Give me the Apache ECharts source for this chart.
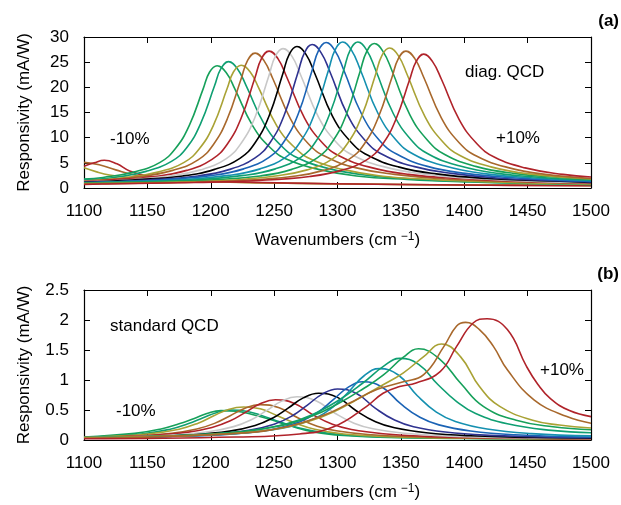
<!DOCTYPE html>
<html><head><meta charset="utf-8">
<script src="https://cdn.jsdelivr.net/npm/echarts/dist/echarts.min.js"></script>
<style>html,body{margin:0;padding:0;background:#fff}#c{width:621px;height:505px}</style>
</head><body><div id="c"></div>
<script>
// ---------- Panel (a): diag. QCD, responsivity (mA/W) vs wavenumber ----------
const aOliveLow = [[1100,4.0],[1110,3.2],[1120,2.6],[1135,2.1],[1160,1.6],[1200,1.25],[1260,0.95],[1350,0.7],[1500,0.5]];
const aBrownLow = [[1100,5.1],[1112,4.6],[1125,3.6],[1140,2.6],[1160,1.9],[1190,1.4],[1240,1.05],[1300,0.85],[1400,0.6],[1500,0.5]];
const aRedLow = [[1100,4.3],[1108,5.0],[1116,5.5],[1126,4.8],[1136,3.4],[1150,2.4],[1175,1.7],[1210,1.3],[1260,1.0],[1330,0.75],[1420,0.55],[1500,0.45]];
const aGreen1 = [[1100,1.8],[1115,2.1],[1140,3.2],[1160,5.1],[1172,7.8],[1183,12.4],[1194,19.7],[1199,23.0],[1205,24.3],[1212,23.0],[1219,19.7],[1233,12.4],[1247,8.0],[1261,5.6],[1285,3.7],[1315,2.4],[1355,1.7],[1405,1.2],[1455,0.9],[1500,0.7]];
const aGreen2 = [[1100,1.7],[1124,2.1],[1149,3.3],[1169,5.3],[1181,8.0],[1192,12.8],[1203,20.3],[1208,23.7],[1214,25.1],[1221,23.7],[1228,20.3],[1242,12.8],[1256,8.3],[1270,5.8],[1294,3.8],[1324,2.5],[1364,1.7],[1414,1.2],[1464,0.9],[1500,0.7]];
const aOlive1 = [[1100,1.4],[1134,2.1],[1159,3.2],[1179,5.1],[1191,7.8],[1202,12.4],[1213,19.8],[1218,23.1],[1224,24.4],[1231,23.1],[1238,19.8],[1252,12.4],[1266,8.1],[1280,5.6],[1304,3.7],[1334,2.4],[1374,1.7],[1424,1.2],[1474,0.9],[1500,0.8]];
const aBrown1 = [[1100,1.4],[1145,2.3],[1170,3.5],[1190,5.6],[1202,8.6],[1213,13.7],[1224,21.7],[1229,25.3],[1235,26.8],[1242,25.3],[1249,21.7],[1263,13.7],[1277,8.8],[1291,6.2],[1315,4.0],[1345,2.7],[1385,1.8],[1435,1.3],[1500,0.9]];
const aRed1 = [[1100,1.3],[1116,1.5],[1156,2.3],[1181,3.5],[1201,5.7],[1213,8.7],[1224,13.9],[1235,22.0],[1240,25.7],[1246,27.2],[1253,25.7],[1260,22.0],[1274,13.9],[1288,9.0],[1302,6.3],[1326,4.1],[1356,2.7],[1396,1.9],[1446,1.3],[1500,1.0]];
const aGray = [[1100,1.3],[1127,1.5],[1167,2.4],[1192,3.6],[1212,5.8],[1224,8.9],[1235,14.1],[1246,22.4],[1251,26.2],[1257,27.7],[1264,26.2],[1271,22.4],[1285,14.1],[1299,9.1],[1313,6.4],[1337,4.2],[1367,2.8],[1407,1.9],[1457,1.3],[1500,1.1]];
const aBlack = [[1100,1.2],[1138,1.6],[1178,2.4],[1203,3.7],[1223,5.9],[1235,9.0],[1246,14.3],[1257,22.8],[1262,26.6],[1268,28.1],[1275,26.6],[1282,22.8],[1296,14.3],[1310,9.3],[1324,6.5],[1348,4.2],[1378,2.8],[1418,1.9],[1468,1.4],[1500,1.1]];
const aNavy = [[1100,1.1],[1150,1.6],[1190,2.4],[1215,3.7],[1235,6.0],[1247,9.1],[1258,14.5],[1269,23.1],[1274,26.9],[1280,28.5],[1287,26.9],[1294,23.1],[1308,14.5],[1322,9.4],[1336,6.6],[1360,4.3],[1390,2.9],[1430,1.9],[1480,1.4],[1500,1.2]];
const aBlue = [[1100,1.1],[1161,1.6],[1201,2.5],[1226,3.8],[1246,6.1],[1258,9.3],[1269,14.7],[1280,23.4],[1285,27.3],[1291,28.9],[1298,27.3],[1305,23.4],[1319,14.7],[1333,9.5],[1347,6.7],[1371,4.3],[1401,2.9],[1441,2.0],[1500,1.3]];
const aTeal = [[1100,1.0],[1124,1.2],[1174,1.6],[1214,2.5],[1239,3.8],[1259,6.1],[1271,9.3],[1282,14.8],[1293,23.5],[1298,27.4],[1304,29.0],[1311,27.4],[1318,23.5],[1332,14.8],[1346,9.6],[1360,6.7],[1384,4.4],[1414,2.9],[1454,2.0],[1500,1.5]];
const aGreen3 = [[1100,1.0],[1136,1.2],[1186,1.6],[1226,2.5],[1251,3.8],[1271,6.1],[1283,9.3],[1294,14.8],[1305,23.5],[1310,27.4],[1316,29.0],[1323,27.4],[1330,23.5],[1344,14.8],[1358,9.6],[1372,6.7],[1396,4.4],[1426,2.9],[1466,2.0],[1500,1.6]];
const aGreen4 = [[1100,1.0],[1149,1.2],[1199,1.6],[1239,2.4],[1264,3.7],[1284,6.0],[1296,9.2],[1307,14.6],[1318,23.3],[1323,27.1],[1329,28.7],[1336,27.1],[1343,23.3],[1357,14.6],[1371,9.5],[1385,6.6],[1409,4.3],[1439,2.9],[1479,2.0],[1500,1.7]];
const aOlive2 = [[1100,0.9],[1161,1.1],[1211,1.5],[1251,2.4],[1276,3.6],[1296,5.8],[1308,8.9],[1319,14.2],[1330,22.5],[1335,26.3],[1341,27.8],[1348,26.3],[1355,22.5],[1369,14.2],[1383,9.2],[1397,6.4],[1421,4.2],[1451,2.8],[1500,1.8]];
const aBrown2 = [[1100,0.8],[1174,1.1],[1224,1.5],[1264,2.3],[1289,3.5],[1309,5.7],[1321,8.7],[1332,13.9],[1343,22.0],[1348,25.7],[1354,27.2],[1361,25.7],[1368,22.0],[1382,13.9],[1396,9.0],[1410,6.3],[1434,4.1],[1464,2.7],[1500,1.9]];
const aRed2 = [[1100,0.7],[1118,0.8],[1188,1.1],[1238,1.5],[1278,2.3],[1303,3.5],[1323,5.6],[1335,8.5],[1346,13.6],[1357,21.6],[1362,25.1],[1368,26.6],[1375,25.1],[1382,21.6],[1396,13.6],[1410,8.8],[1424,6.1],[1448,4.0],[1478,2.7],[1500,2.2]];

// ---------- Panel (b): standard QCD ----------
const bGreen1 = [[1100,0.05],[1140,0.11],[1160,0.18],[1175,0.27],[1187,0.36],[1197,0.44],[1208,0.49],[1220,0.48],[1232,0.43],[1247,0.34],[1262,0.24],[1280,0.14],[1305,0.075],[1340,0.043],[1400,0.025],[1500,0.015]];
const bGreen2 = [[1100,0.045],[1145,0.1],[1168,0.18],[1182,0.27],[1194,0.37],[1205,0.46],[1216,0.5],[1228,0.48],[1240,0.41],[1255,0.3],[1270,0.2],[1290,0.12],[1320,0.065],[1360,0.04],[1430,0.022],[1500,0.015]];
const bOlive1 = [[1100,0.043],[1150,0.1],[1175,0.18],[1190,0.28],[1202,0.4],[1214,0.51],[1226,0.55],[1239,0.52],[1252,0.41],[1267,0.28],[1282,0.18],[1305,0.1],[1340,0.055],[1400,0.03],[1500,0.016]];
const bBrown1 = [[1100,0.039],[1139,0.065],[1169,0.112],[1189,0.183],[1203,0.277],[1215,0.401],[1227,0.531],[1239,0.59],[1254,0.537],[1269,0.366],[1284,0.23],[1299,0.153],[1324,0.091],[1359,0.053],[1409,0.032],[1469,0.021],[1500,0.018]];
const bRed1 = [[1100,0.04],[1151,0.074],[1181,0.127],[1201,0.208],[1215,0.315],[1227,0.456],[1239,0.603],[1251,0.67],[1266,0.61],[1281,0.415],[1296,0.261],[1311,0.174],[1336,0.104],[1371,0.06],[1421,0.037],[1481,0.023],[1500,0.021]];
const bGray = [[1100,0.038],[1118,0.043],[1168,0.079],[1198,0.137],[1218,0.223],[1232,0.338],[1244,0.49],[1256,0.648],[1268,0.72],[1283,0.655],[1298,0.446],[1313,0.281],[1328,0.187],[1353,0.112],[1388,0.065],[1438,0.04],[1500,0.025]];
const bBlack = [[1100,0.037],[1135,0.047],[1185,0.086],[1215,0.148],[1235,0.242],[1249,0.367],[1261,0.53],[1273,0.702],[1285,0.78],[1300,0.71],[1315,0.484],[1330,0.304],[1345,0.203],[1370,0.121],[1405,0.07],[1455,0.043],[1500,0.03]];
const bNavy = [[1100,0.037],[1150,0.051],[1200,0.094],[1230,0.162],[1250,0.264],[1264,0.4],[1276,0.578],[1288,0.765],[1300,0.85],[1315,0.774],[1330,0.527],[1345,0.332],[1360,0.221],[1385,0.132],[1420,0.077],[1470,0.047],[1500,0.038]];
const bBlue = [[1100,0.037],[1170,0.058],[1220,0.107],[1250,0.184],[1270,0.301],[1284,0.456],[1296,0.66],[1308,0.873],[1320,0.97],[1335,0.883],[1350,0.601],[1365,0.378],[1380,0.252],[1405,0.15],[1440,0.087],[1500,0.049]];
const bTeal = [[1100,0.042],[1183,0.071],[1233,0.131],[1263,0.226],[1283,0.369],[1297,0.559],[1309,0.809],[1321,1.071],[1333,1.19],[1348,1.083],[1363,0.738],[1378,0.464],[1393,0.309],[1418,0.184],[1453,0.107],[1500,0.068]];
const bGreen3 = [[1100,0.04],[1180,0.08],[1230,0.15],[1260,0.27],[1280,0.42],[1300,0.65],[1320,0.95],[1337,1.24],[1349,1.36],[1364,1.26],[1379,0.93],[1394,0.64],[1409,0.44],[1434,0.27],[1469,0.16],[1500,0.12]];
const bGreen4 = [[1100,0.04],[1200,0.1],[1250,0.22],[1280,0.4],[1300,0.6],[1320,0.85],[1336,1.08],[1352,1.38],[1364,1.52],[1381,1.34],[1397,0.95],[1415,0.56],[1441,0.33],[1470,0.22],[1500,0.17]];
const bOlive2 = [[1100,0.04],[1200,0.09],[1250,0.18],[1280,0.33],[1300,0.5],[1315,0.67],[1336,0.92],[1352,1.12],[1368,1.39],[1382,1.6],[1397,1.39],[1412,0.89],[1428,0.56],[1454,0.33],[1475,0.25],[1500,0.2]];
const bBrown2 = [[1100,0.03],[1220,0.11],[1260,0.22],[1290,0.42],[1310,0.62],[1331,0.84],[1352,0.97],[1368,1.09],[1384,1.56],[1394,1.9],[1401,1.96],[1412,1.84],[1423,1.56],[1434,1.17],[1455,0.67],[1481,0.39],[1500,0.28]];
const bRed2 = [[1100,0.02],[1220,0.05],[1270,0.1],[1297,0.22],[1323,0.56],[1336,0.78],[1349,0.89],[1362,0.95],[1381,1.14],[1394,1.56],[1407,1.95],[1418,2.02],[1434,1.84],[1449,1.23],[1458,0.93],[1468,0.69],[1483,0.49],[1500,0.39]];

// ---------- axis settings ----------
const xRange = [1100, 1500, 50];
const yRangeA = [0, 30, 5];
const yRangeB = [0, 2.5, 0.5];

const C = {
  red: '#b0232a', brown: '#a8682c', olive: '#a9a235', greenA: '#16a05a', greenB: '#0f9f72',
  teal: '#1590b0', blue: '#1b63b5', navy: '#2f3390', black: '#000000', gray: '#c8c8c8'
};

const panelA = [
  [aOliveLow,'olive'],[aBrownLow,'brown'],[aRedLow,'red'],
  [aGreen1,'greenA'],[aGreen2,'greenB'],[aOlive1,'olive'],[aBrown1,'brown'],[aRed1,'red'],
  [aGray,'gray'],[aBlack,'black'],[aNavy,'navy'],[aBlue,'blue'],[aTeal,'teal'],
  [aGreen3,'greenB'],[aGreen4,'greenA'],[aOlive2,'olive'],[aBrown2,'brown'],[aRed2,'red']
];
const panelB = [
  [bGreen1,'greenA'],[bGreen2,'greenB'],[bOlive1,'olive'],[bBrown1,'brown'],[bRed1,'red'],
  [bGray,'gray'],[bBlack,'black'],[bNavy,'navy'],[bBlue,'blue'],[bTeal,'teal'],
  [bGreen3,'greenB'],[bGreen4,'greenA'],[bOlive2,'olive'],[bBrown2,'brown'],[bRed2,'red']
];

const FONT = '"Liberation Sans", Arial, Helvetica, sans-serif';
const series = [];
function addSeries(list, axisIdx) {
  list.forEach(([d, col]) => series.push({
    type: 'line', data: d, xAxisIndex: axisIdx, yAxisIndex: axisIdx,
    smooth: 0.45, showSymbol: false, symbol: 'none',
    lineStyle: { color: C[col], width: 1.6 }, silent: true
  }));
}
addSeries(panelA, 0);
addSeries(panelB, 2);

const lineStyle = { show: true, onZero: false, lineStyle: { color: '#000', width: 1.2 } };
const tick = { show: true, inside: true, length: 6, lineStyle: { color: '#000', width: 1 } };
const lab = { color: '#000', fontSize: 17, fontFamily: FONT };

function xAx(grid, top) {
  return {
    type: 'value', gridIndex: grid, position: top ? 'top' : 'bottom',
    min: xRange[0], max: xRange[1], interval: xRange[2],
    axisLine: lineStyle, axisTick: tick, splitLine: { show: false },
    axisLabel: top ? { show: false } : Object.assign({ margin: 15, formatter: v => String(v) }, lab),
    name: top ? '' : 'Wavenumbers (cm{sup|−1})', nameLocation: 'middle', nameGap: 43,
    nameTextStyle: { color: '#000', fontSize: 17, fontFamily: FONT,
      rich: { sup: { fontSize: 12, fontFamily: FONT, color: '#000', verticalAlign: 'top', padding: [0, 0, 6, 4] } } }
  };
}
function yAx(grid, r, right) {
  return {
    type: 'value', gridIndex: grid, position: right ? 'right' : 'left',
    min: r[0], max: r[1], interval: r[2],
    axisLine: lineStyle, axisTick: tick, splitLine: { show: false },
    axisLabel: right ? { show: false } : Object.assign({ margin: 15, formatter: v => String(v) }, lab),
    name: right ? '' : 'Responsivity (mA/W)', nameLocation: 'middle', nameGap: 51, nameRotate: 90,
    nameTextStyle: { color: '#000', fontSize: 17, fontFamily: FONT }
  };
}

function txt(x, y, s, align, bold) {
  return { type: 'text', x: x, y: y, silent: true,
    style: { text: s, fill: '#000', font: (bold ? 'bold ' : '') + '17px ' + FONT, align: align || 'left', verticalAlign: 'middle' } };
}

const chart = echarts.init(document.getElementById('c'), null, { renderer: 'canvas' });
chart.setOption({
  animation: false,
  backgroundColor: '#fff',
  textStyle: { fontFamily: FONT },
  grid: [
    { left: 84, top: 37, width: 507, height: 151 },
    { left: 84, top: 290, width: 507, height: 150 }
  ],
  xAxis: [xAx(0, false), xAx(0, true), xAx(1, false), xAx(1, true)],
  yAxis: [yAx(0, yRangeA, false), yAx(0, yRangeA, true), yAx(1, yRangeB, false), yAx(1, yRangeB, true)],
  series: series,
  graphic: [
    txt(619, 21, '(a)', 'right', true),
    txt(619, 274, '(b)', 'right', true),
    txt(465, 72.5, 'diag. QCD'),
    txt(110, 139, '-10%'),
    txt(496, 138, '+10%'),
    txt(110, 326, 'standard QCD'),
    txt(116, 411, '-10%'),
    txt(540, 370.5, '+10%')
  ]
});
</script>
</body></html>
